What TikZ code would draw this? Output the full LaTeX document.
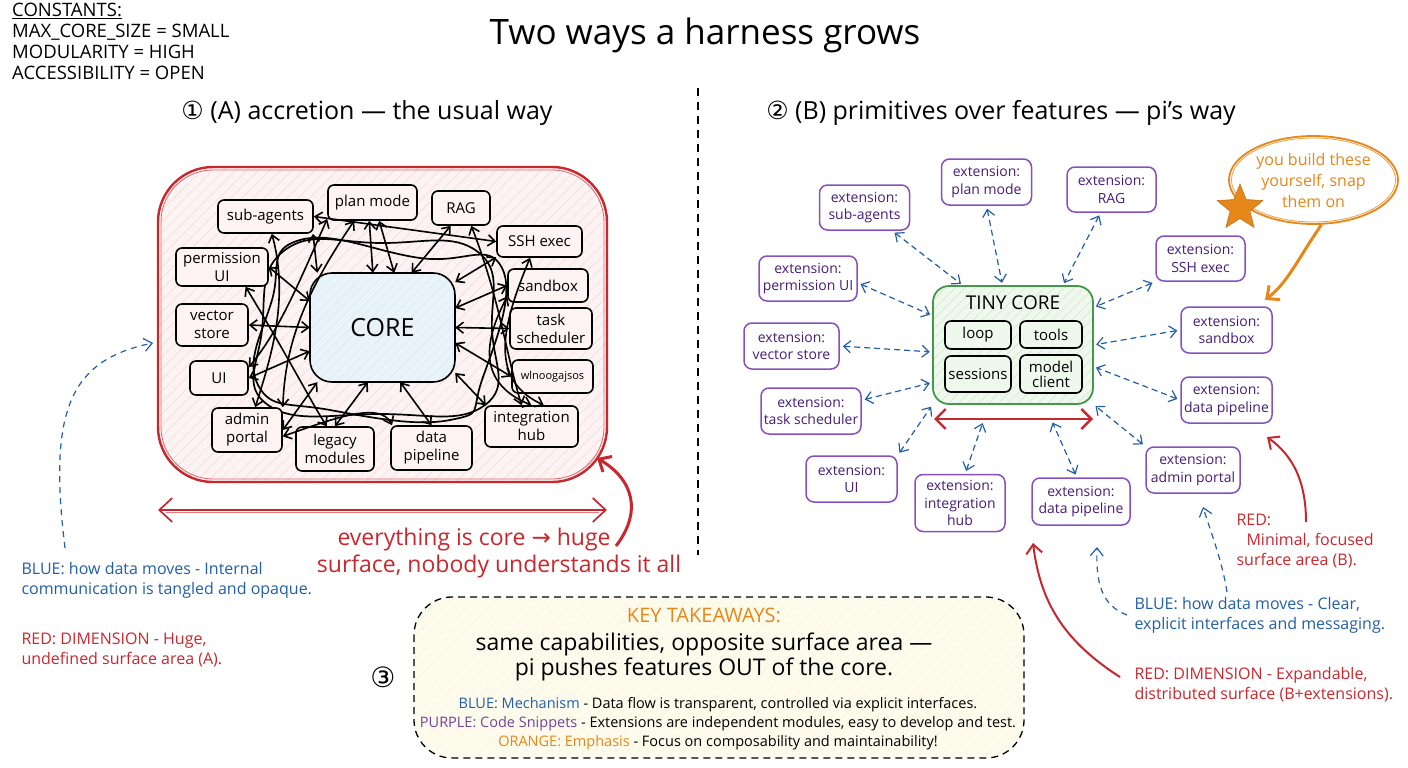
\documentclass[tikz,border=0pt]{standalone}
\usepackage{fontspec}
\setmainfont{Open Sans}
\newfontfamily\symf{DejaVu Sans}
\usetikzlibrary{arrows.meta,patterns.meta,shapes.geometric,calc}
\definecolor{myred}{RGB}{200,40,45}
\definecolor{myblue}{RGB}{35,95,165}
\definecolor{mypurple}{RGB}{135,80,190}
\definecolor{myptext}{RGB}{70,30,120}
\definecolor{mygreen}{RGB}{70,150,75}
\definecolor{myorange}{RGB}{230,135,25}
\definecolor{pinkfill}{RGB}{253,243,243}
\definecolor{bluefill}{RGB}{232,243,250}
\definecolor{greenfill}{RGB}{238,248,236}
\definecolor{yellowfill}{RGB}{253,252,236}
\newcommand\fsz[2]{\fontsize{#1}{#2}\selectfont}
\begin{document}
\begin{tikzpicture}[x=1pt,y=-1pt,
  lbox/.style={draw=black, line width=1.6pt, rounded corners=6pt, fill=pinkfill, align=center, font=\fsz{15}{18}, inner sep=1pt},
  ebox/.style={draw=mypurple, line width=1.5pt, rounded corners=8pt, fill=white, align=center, text=myptext, font=\fsz{14}{17.5}, inner sep=1pt},
  ibox/.style={draw=black, line width=1.6pt, rounded corners=6pt, fill=greenfill, align=center, font=\fsz{15}{15}, inner sep=1pt},
  tang/.style={line width=1.6pt, {Straight Barb[length=7pt,width=11pt]}-{Straight Barb[length=7pt,width=11pt]}},
  tline/.style={line width=1.7pt},
  bdash/.style={myblue, line width=1.2pt, dash pattern=on 6pt off 4pt, {Straight Barb[length=7pt,width=12pt]}-{Straight Barb[length=7pt,width=12pt]}, shorten >=3pt, shorten <=3pt},
  bdone/.style={myblue, line width=1.2pt, dash pattern=on 6pt off 5pt, -{Straight Barb[length=8pt,width=13pt]}},
  redone/.style={myred, line width=2pt, -{Straight Barb[length=9pt,width=16pt]}},
  note/.style={align=left, anchor=west, font=\fsz{16}{20}},
]
\useasboundingbox (0,0) rectangle (1408,768);
\fill[white] (0,0) rectangle (1408,768);

% ---------- header ----------
\node[anchor=north west, align=left, font=\fsz{18.5}{21}, inner sep=0pt] (const) at (12,3)
  {\underline{CONSTANTS:}\\MAX\_CORE\_SIZE = SMALL\\MODULARITY = HIGH\\ACCESSIBILITY = OPEN};
\node[font=\fsz{35}{38}] (title) at (705,35) {Two ways a harness grows};
\node[font=\fsz{25}{28}] (h1) at (367,113) {{\symf ①} (A) accretion — the usual way};
\node[font=\fsz{25}{28}] (h2) at (1001,113) {{\symf ②} (B) primitives over features — pi’s way};
\coordinate (d1) at (698,88); \coordinate (d2) at (698,555);
\draw[line width=1.2pt, dash pattern=on 8pt off 6pt] (d1) -- (d2);

% ---------- left: accretion ----------
\path[draw=myred, line width=2.4pt, rounded corners=55pt, preaction={fill=pinkfill},
  pattern={Lines[angle=45,distance=8pt,line width=0.5pt]}, pattern color=myred!18]
  (158,167) rectangle (607,482);
\draw[myred!70, line width=0.8pt, rounded corners=52pt] (161,170) rectangle (604,479);

% tangled loops
\draw[tline] plot[smooth cycle, tension=0.8] coordinates {(285,250) (380,243) (478,252) (492,330) (485,405) (380,414) (268,405) (262,330)};
\draw[tline] plot[smooth cycle, tension=0.8] coordinates {(300,240) (420,258) (502,268) (482,380) (450,420) (330,410) (258,385) (272,300)};

\path[draw=black, line width=1.6pt, rounded corners=22pt, preaction={fill=bluefill},
  pattern={Lines[angle=45,distance=7pt,line width=0.5pt]}, pattern color=myblue!15]
  (310,273) rectangle (455,382);
\node[font=\fsz{25}{28}] (core) at (382.5,327.5) {CORE};
\path (310,273) rectangle (455,382) node[pos=0.5, minimum width=145pt, minimum height=109pt, inner sep=0pt] (corebox) {};

\node[lbox, minimum width=95pt, minimum height=33pt] (sa) at (265.5,216.5) {sub-agents};
\node[lbox, minimum width=89pt, minimum height=35pt] (pm) at (372.5,202.5) {plan mode};
\node[lbox, minimum width=58pt, minimum height=34pt] (rag) at (461,208) {RAG};
\node[lbox, minimum width=85pt, minimum height=31pt] (ssh) at (539.5,241.5) {SSH exec};
\node[lbox, minimum width=92pt, minimum height=38pt] (pu) at (222,267) {permission\\UI};
\node[lbox, minimum width=80pt, minimum height=33pt] (sb) at (548,285.5) {sandbox};
\node[lbox, minimum width=72pt, minimum height=42pt] (vs) at (212,325) {vector\\store};
\node[lbox, minimum width=82pt, minimum height=41pt] (ts) at (551,328.5) {task\\scheduler};
\node[lbox, minimum width=58pt, minimum height=34pt] (ui) at (219,378) {UI};
\node[lbox, minimum width=81pt, minimum height=33pt, font=\fsz{11}{12}] (wl) at (552.5,376.5) {wlnoogajsos};
\node[lbox, minimum width=70pt, minimum height=44pt] (ap) at (247,430) {admin\\portal};
\node[lbox, minimum width=78pt, minimum height=44pt] (lm) at (335,449) {legacy\\modules};
\node[lbox, minimum width=81pt, minimum height=44pt] (dp) at (431.5,448) {data\\pipeline};
\node[lbox, minimum width=93pt, minimum height=41pt] (ih) at (531.5,426.5) {integration\\hub};

% tangled arrows
\draw[tang] (sa.-70) .. controls (290,300) and (270,360) .. (ap.70);
\draw[tang] (sa.-20) -- (corebox.140);
\draw[tang] (pm.-100) -- (corebox.100);
\draw[tang] (pm.-70) -- (corebox.78);
\draw[tang] (pm.-135) .. controls (300,300) and (285,350) .. (ap.north east);
\draw[tang] (rag.-120) -- (corebox.62);
\draw[tang] (rag.-60) .. controls (500,300) and (505,350) .. (ih.115);
\draw[tang] (ssh.west) -- (sa.east);
\draw[tang] (ssh.-160) -- (corebox.32);
\draw[tang] (sb.west) -- (corebox.15);
\draw[tang] (ts.west) -- (corebox.0);
\draw[tang] (wl.west) -- (corebox.-12);
\draw[tang] (ih.155) -- (corebox.-32);
\draw[tang] (dp.north) -- (corebox.-72);
\draw[tang] (lm.north) -- (corebox.-105);
\draw[tang] (ap.east) -- (corebox.-140);
\draw[tang] (ui.east) -- (corebox.-162);
\draw[tang] (vs.east) -- (corebox.180);
\draw[tang] (pu.east) -- (corebox.160);
\draw[tang] (pu.-40) .. controls (290,360) and (310,400) .. (lm.110);
\draw[tang] (sb.-165) .. controls (490,330) and (470,380) .. (ih.north);
\draw[tang] (ui.20) .. controls (280,330) and (300,280) .. (pm.-160);
\draw[tang] (ssh.-120) .. controls (500,330) and (490,380) .. (ih.60);
\draw[tang] (ap.-10) .. controls (330,420) and (380,400) .. (dp.150);

% red dimension arrow
\coordinate (la) at (158,510); \coordinate (lb) at (607,510);
\draw[myred, line width=1.7pt, {Straight Barb[length=13pt,width=24pt]}-{Straight Barb[length=13pt,width=24pt]}] (la) -- (lb);
\draw[myred!60, line width=0.7pt] (166,512.5) -- (599,512.5);
\node[text=myred, align=center, font=\fsz{23}{27}] (evc) at (499,553) {everything is core {\symf →} huge\hspace*{50pt}\\surface, nobody understands it all};
\coordinate (rs) at (616,546); \coordinate (rt) at (597,458);
\draw[myred, line width=3pt, -{Straight Barb[length=10pt,width=18pt]}] (rs) .. controls (642,512) and (634,480) .. (rt);

% left notes
\node[note, text=myblue] (bnl) at (18,580) {BLUE: how data moves - Internal\\communication is tangled and opaque.};
\node[note, text=myred] (rnl) at (18,650) {RED: DIMENSION - Huge,\\undefined surface area (A).};
\coordinate (bl0) at (65,548); \coordinate (blt) at (153,343);
\draw[bdone] (bl0) .. controls (48,410) and (70,360) .. (blt);

% ---------- right: primitives ----------
\path[draw=mygreen, line width=1.8pt, rounded corners=16pt, preaction={fill=greenfill},
  pattern={Lines[angle=45,distance=7pt,line width=0.5pt]}, pattern color=mygreen!25]
  (933,286) rectangle (1093,404);
\path (933,286) rectangle (1093,404) node[pos=0.5, minimum width=160pt, minimum height=118pt, inner sep=0pt] (tc) {};
\node[font=\fsz{19}{20}] (tct) at (1013,303) {TINY CORE};
\node[ibox, minimum width=66pt, minimum height=28pt] (loop) at (978,335) {loop};
\node[ibox, minimum width=62pt, minimum height=27pt] (tools) at (1051,334.5) {tools};
\node[ibox, minimum width=66pt, minimum height=36pt] (sess) at (978,374) {sessions};
\node[ibox, minimum width=62pt, minimum height=38pt] (mc) at (1051,374) {model\\client};
\coordinate (ra) at (934,419); \coordinate (rb) at (1093,419);
\draw[myred, line width=2.4pt, {Straight Barb[length=10pt,width=20pt]}-{Straight Barb[length=10pt,width=20pt]}] (ra) -- (rb);

\node[ebox, minimum width=90pt, minimum height=45pt] (esa) at (864.5,207.5) {extension:\\sub-agents};
\node[ebox, minimum width=90pt, minimum height=46pt] (epm) at (986.5,182) {extension:\\plan mode};
\node[ebox, minimum width=89pt, minimum height=45pt] (erag) at (1111.5,189.5) {extension:\\RAG};
\node[ebox, minimum width=89pt, minimum height=45pt] (essh) at (1200.5,258.5) {extension:\\SSH exec};
\node[ebox, minimum width=98pt, minimum height=45pt] (epu) at (808,278.5) {extension:\\permission UI};
\node[ebox, minimum width=95pt, minimum height=46pt] (evs) at (791.5,346) {extension:\\vector store};
\node[ebox, minimum width=100pt, minimum height=46pt] (ets) at (811,411) {extension:\\task scheduler};
\node[ebox, minimum width=91pt, minimum height=46pt] (esb) at (1226.5,330) {extension:\\sandbox};
\node[ebox, minimum width=91pt, minimum height=46pt] (edpr) at (1226.5,400) {extension:\\data pipeline};
\node[ebox, minimum width=91pt, minimum height=46pt] (eui) at (851.5,479) {extension:\\UI};
\node[ebox, minimum width=90pt, minimum height=57pt] (eih) at (960,503) {extension:\\integration\\hub};
\node[ebox, minimum width=98pt, minimum height=47pt] (edpb) at (1081,501.5) {extension:\\data pipeline};
\node[ebox, minimum width=94pt, minimum height=46pt] (eap) at (1193,470) {extension:\\admin portal};

\draw[bdash] (esa.-40) -- (tc.130);
\draw[bdash] (epm.south) -- (tc.100);
\draw[bdash] (erag.-115) -- (tc.50);
\draw[bdash] (essh.south west) -- (tc.25);
\draw[bdash] (epu.-5) -- (tc.160);
\draw[bdash] (evs.east) -- (tc.185);
\draw[bdash] (ets.12) -- (tc.-155);
\draw[bdash] (esb.west) -- (tc.east);
\draw[bdash] (edpr.west) -- (tc.-15);
\draw[bdash] (eui.north east) -- (tc.south west);
\draw[bdash, shorten >=20pt] (eih.80) -- (tc.-112);
\draw[bdash, shorten >=20pt] (edpb.100) -- (tc.-62);
\draw[bdash] (eap.north west) -- (tc.south east);

% orange callout
\node[draw=myorange, ellipse, line width=1.8pt, minimum width=169pt, minimum height=88pt, inner sep=0pt, align=center, text=myorange, font=\fsz{16}{21}] (callout) at (1313.5,180) {you build these\\yourself, snap\\them on};
\draw[myorange!80, line width=0.8pt] (1313.5,180) ellipse [x radius=82pt, y radius=42pt];
\node[star, star points=5, star point ratio=2.3, fill=myorange, draw=myorange!85!black, line width=0.6pt, minimum size=48pt, inner sep=0pt] (star) at (1240,208) {};
\coordinate (ot) at (1265,300);
\draw[myorange, line width=3pt, -{Straight Barb[length=10pt,width=18pt]}] (callout.-80) .. controls (1296,262) and (1288,282) .. (ot);

% right notes
\node[note, text=myred] (rnr1) at (1233,541) {RED:\\\hspace*{10pt}Minimal, focused\\surface area (B).};
\node[note, text=myblue] (bnr) at (1131,615) {BLUE: how data moves - Clear,\\explicit interfaces and messaging.};
\node[note, text=myred] (rnr2) at (1131,685) {RED: DIMENSION - Expandable,\\distributed surface (B+extensions).};
\coordinate (r1s) at (1306,522); \coordinate (r1t) at (1267,437);
\draw[redone] (r1s) .. controls (1306,480) and (1292,455) .. (r1t);
\coordinate (r2s) at (1120,677); \coordinate (r2t) at (1033,543);
\draw[redone] (r2s) .. controls (1062,640) and (1040,600) .. (r2t);
\coordinate (b1s) at (1227,592); \coordinate (b1t) at (1203,507);
\draw[bdone] (b1s) .. controls (1222,560) and (1210,530) .. (b1t);
\coordinate (b2s) at (1127,615); \coordinate (b2t) at (1097,547);
\draw[bdone] (b2s) .. controls (1100,605) and (1096,580) .. (b2t);

% ---------- takeaways ----------
\path[draw=black, line width=1.3pt, dash pattern=on 7pt off 5pt, rounded corners=38pt, preaction={fill=yellowfill},
  pattern={Lines[angle=45,distance=8pt,line width=0.5pt]}, pattern color=myorange!12]
  (414,597) rectangle (1024,758);
\node[text=myorange, font=\fsz{20}{22}] (kt) at (704,615) {KEY TAKEAWAYS:};
\node[align=center, font=\fsz{23}{25}] (kt2) at (704,657) {same capabilities, opposite surface area —\\pi pushes features OUT of the core.};
\node[align=center, font=\fsz{14.5}{19}] (kt3) at (718,724)
  {{\color{myblue}BLUE: Mechanism} - Data flow is transparent, controlled via explicit interfaces.\\
   {\color{mypurple!85!black}PURPLE: Code Snippets} - Extensions are independent modules, easy to develop and test.\\
   {\color{myorange}ORANGE: Emphasis} - Focus on composability and maintainability!};
\node[font=\fsz{28}{30}] (c3) at (383,677) {\symf ③};
\end{tikzpicture}
\end{document}
